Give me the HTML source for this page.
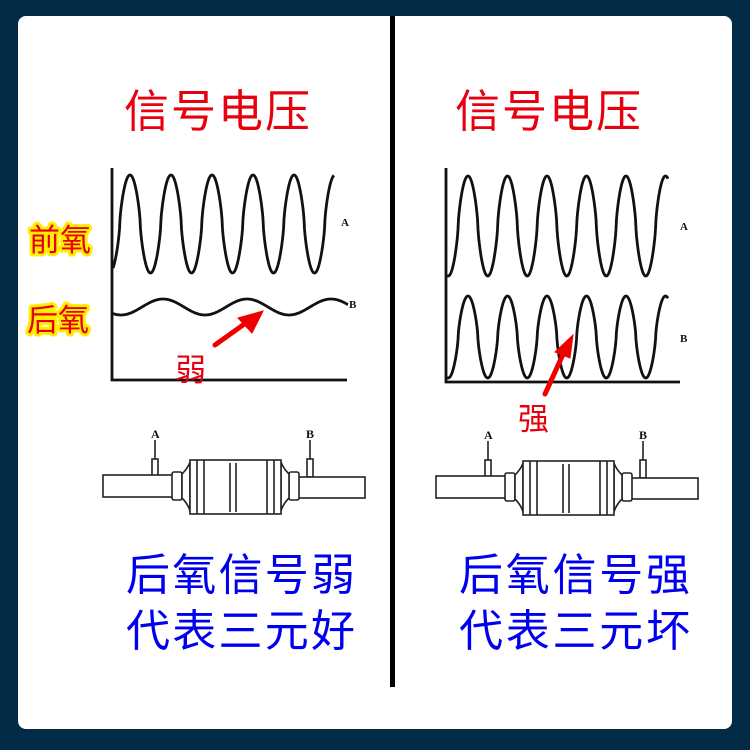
<!DOCTYPE html>
<html><head><meta charset="utf-8"><style>
html,body{margin:0;padding:0;background:#042b45;}
svg{display:block}
.cj{font-family:"Liberation Sans","Noto Sans CJK SC",sans-serif;}
.sf{font-family:"Liberation Serif",serif;font-weight:bold;}
</style></head><body>
<svg id="s" width="750" height="750" viewBox="0 0 750 750" xmlns="http://www.w3.org/2000/svg">
<rect x="0" y="0" width="750" height="750" fill="#042b45"/>
<rect x="18" y="16" width="714" height="713" rx="8" fill="#fff"/>
<rect x="390" y="16" width="5" height="671" fill="#000"/>
<g class="cj" font-size="45" fill="#e8000e">
<text x="124" y="127" textLength="186">信号电压</text>
<text x="455" y="127" textLength="186">信号电压</text>
</g>
<g class="cj" font-size="31" fill="#e8000e" stroke="#ffee00" stroke-width="6" paint-order="stroke" stroke-linejoin="round">
<text x="29" y="251">前氧</text>
<text x="27" y="331">后氧</text>
</g>
<g fill="none" stroke="#111" stroke-width="2.8">
<path d="M112 168 V380 H347"/>
<path d="M446 168 V382 H680"/>
<path id="la"/><path id="lb"/><path id="ra"/><path id="rb"/>
</g>
<g class="sf" font-size="11" fill="#111">
<text x="341" y="226">A</text><text x="349" y="308">B</text>
<text x="680" y="230">A</text><text x="680" y="342">B</text>
</g>
<g id="part" fill="#fff" stroke="#222" stroke-width="1.6">
<line x1="155" y1="440" x2="155" y2="460"/>
<line x1="310" y1="440" x2="310" y2="460"/>
<rect x="152" y="459" width="6" height="17"/>
<rect x="307" y="459" width="6" height="18"/>
<rect x="103" y="475" width="72" height="22"/>
<rect x="298" y="477" width="67" height="21"/>
<rect x="172" y="472" width="10" height="28" rx="2"/>
<rect x="289" y="472" width="10" height="28" rx="2"/>
<path d="M182 474 Q188 468 190 462 V511 Q188 504 182 498 Z"/>
<path d="M289 474 Q283 468 281 462 V511 Q283 504 289 498 Z"/>
<rect x="190" y="460" width="91" height="54"/>
<line x1="197" y1="460" x2="197" y2="514"/><line x1="204" y1="460" x2="204" y2="514"/>
<line x1="267" y1="460" x2="267" y2="514"/><line x1="274" y1="460" x2="274" y2="514"/>
<line x1="230" y1="463" x2="230" y2="512"/><line x1="236" y1="463" x2="236" y2="512"/>
</g>
<use href="#part" transform="translate(333,1)"/>
<g class="sf" font-size="12" fill="#111">
<text x="151" y="438">A</text><text x="306" y="438">B</text>
<text x="484" y="439">A</text><text x="639" y="439">B</text>
</g>
<g stroke="#ee0000" stroke-width="5" stroke-linecap="round" fill="#ee0000">
<line x1="215" y1="345" x2="250" y2="320"/>
<polygon points="263,311 238,318 252,333" stroke-width="1"/>
<line x1="545" y1="394" x2="565" y2="350"/>
<polygon points="573,335 555,352 570,358" stroke-width="1"/>
</g>
<g class="cj" font-size="31" fill="#e8000e">
<text x="175" y="381">弱</text>
<text x="518" y="430">强</text>
</g>
<g class="cj" font-size="44" fill="#0000ee">
<text x="126" y="590" textLength="229">后氧信号弱</text>
<text x="126" y="646" textLength="229">代表三元好</text>
<text x="459" y="590" textLength="231">后氧信号强</text>
<text x="459" y="646" textLength="231">代表三元坏</text>
</g>
</svg>
<script>
function w(id,x0,x1,mid,amp,px,per,p){
 var d="";
 for(var x=x0;x<=x1;x+=0.5){
  var c=Math.cos(2*Math.PI*(x-px)/per);
  var s=Math.sign(c)*Math.pow(Math.abs(c),p);
  var y=mid-amp*s;
  d+=(x==x0?"M":"L")+x.toFixed(1)+" "+y.toFixed(1);
 }
 document.getElementById(id).setAttribute("d",d);
}
w("la",113,334,224,49,130,41,0.7);
w("lb",113,348,307,8,163,84,1);
w("ra",447,668,226,50,468,39.5,0.7);
w("rb",447,668,337,41,468,39.5,0.7);
</script>
</body></html>
